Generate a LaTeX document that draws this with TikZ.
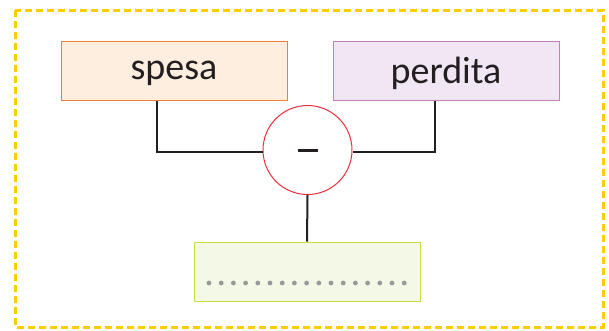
\documentclass[tikz,border=0pt]{standalone}
\usepackage{fontspec}
\setmainfont{Carlito}
\definecolor{dashy}{HTML}{FFCC00}
\definecolor{orbd}{HTML}{F08030}
\definecolor{orfill}{HTML}{FDEEDF}
\definecolor{pubd}{HTML}{C080C0}
\definecolor{pufill}{HTML}{F1E6F4}
\definecolor{grbd}{HTML}{C8DC40}
\definecolor{grfill}{HTML}{F4F8E6}
\definecolor{circbd}{HTML}{E8303A}
\definecolor{dotc}{HTML}{999999}
\definecolor{txt}{HTML}{231F20}
\begin{document}
\begin{tikzpicture}[x=1pt,y=-1pt,
  termbox/.style={draw=#1, line width=1pt, minimum width=226pt, minimum height=59pt, inner sep=0pt, text depth=0pt, font=\fontsize{38}{44}\selectfont, text=txt},
  conn/.style={draw=txt, line width=2pt}]
\useasboundingbox (0,0) rectangle (609,330);
\draw[dashy, line width=3pt, dash pattern=on 7pt off 4pt] (15,10) rectangle (603,327);
\node[termbox=orbd, fill=orfill] (spesa) at (174,70.5) {spesa};
\node[termbox=pubd, fill=pufill] (perdita) at (446,70.5) {perdita};
\node[termbox=grbd, fill=grfill] (res) at (307,271.5) {};
\node[circle, draw=circbd, fill=white, line width=1pt, minimum size=89pt, inner sep=0pt] (op) at (307.5,150) {};
\draw[txt, line width=3pt] ([xshift=-10pt]op.center) -- ([xshift=10pt]op.center);
\draw[conn] (spesa.south -| 157,0) |- ([yshift=-2pt]op.west);
\draw[conn] (perdita.south -| 435,0) |- ([yshift=-2pt]op.east);
\draw[conn] (op.south) -- (res.north);
\foreach \i in {0,...,16} \fill[dotc] (209+\i*12.2,283) circle (2.4pt);
\end{tikzpicture}
\end{document}
